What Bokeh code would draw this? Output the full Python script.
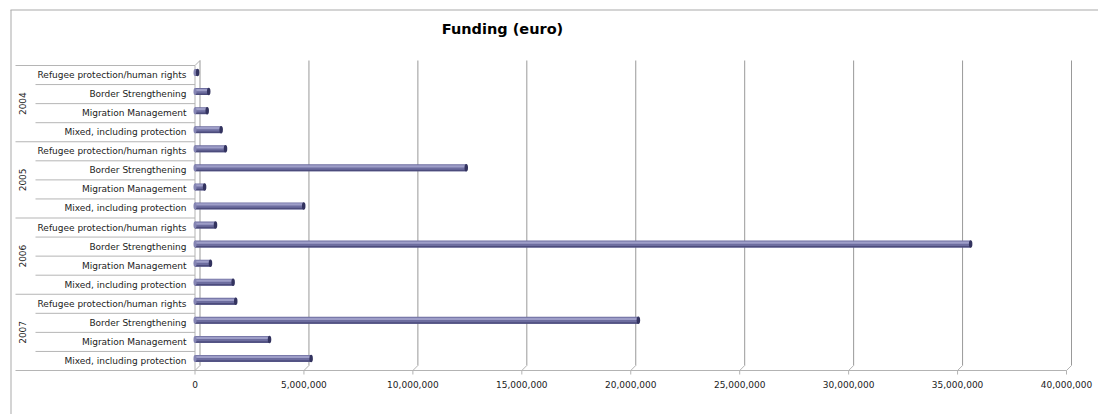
import math
from bokeh.plotting import figure
from bokeh.models import ColumnDataSource
from bokeh.core.properties import value
from bokeh.embed import file_html
from bokeh.resources import INLINE

# ---------------- data ----------------
years = ["2004", "2005", "2006", "2007"]
types = ["Refugee protection/human rights", "Border Strengthening",
         "Migration Management", "Mixed, including protection"]
funding_2004 = [120000, 630000, 560000, 1200000]
funding_2005 = [1400000, 12450000, 440000, 4990000]
funding_2006 = [940000, 35600000, 710000, 1750000]
funding_2007 = [1870000, 20350000, 3420000, 5330000]
x_ticks = [0, 5000000, 10000000, 15000000, 20000000, 25000000, 30000000, 35000000, 40000000]
title_text = "Funding (euro)"

# ---------------- layout ----------------
W, H = 1098, 414
PAGE = 0
X0, X40 = 194.5, 1066.0          # image px of 0 and 40M (front plane)
Y_BOT, Y_TOP = 370.0, 65.0       # image px of floor and top of rows
n_rows = len(years) * len(types)
row_px = (Y_BOT - Y_TOP) / n_rows
dpx = x_ticks[-1] / (X40 - X0)   # data per px (x)

x_start = -(X0 - PAGE) * dpx
x_end = x_start + W * dpx
y_end = (Y_BOT - PAGE) / row_px
y_start = y_end - H / row_px

def px2x(px):
    return (px - X0) * dpx

def px2y(py):
    return (Y_BOT - py) / row_px

DX = 5 * dpx        # 3D depth offsets
DY = 5 / row_px

p = figure(width=W, height=H, x_range=(x_start, x_end), y_range=(y_start, y_end),
           output_backend="svg", toolbar_location=None, min_border=0)
p.axis.visible = False
p.grid.visible = False
p.outline_line_color = None
p.background_fill_color = "white"
p.border_fill_color = "white"

FONT = value("DejaVu Sans")

# rows (top to bottom)
all_vals = [funding_2004, funding_2005, funding_2006, funding_2007]
labels, vals, yc = [], [], []
for gi, yr in enumerate(years):
    for ti, t in enumerate(types):
        i = gi * len(types) + ti
        labels.append(t)
        vals.append(all_vals[gi][ti])
        yc.append(n_rows - i - 0.5)

# ---------------- outer border (top & left) ----------------
bc = "#a9a9a9"
p.segment(x0=[px2x(10), px2x(10.5)], y0=[px2y(9.5), px2y(9.5)],
          x1=[x_end, px2x(10.5)], y1=[px2y(9.5), y_start],
          line_color=bc, line_width=1)

# ---------------- category separators ----------------
sep_y_major = [k * len(types) for k in range(len(years) + 1)]
sep_y_minor = [k for k in range(n_rows + 1) if k % len(types) != 0]
p.segment(x0=[px2x(15)] * len(sep_y_major), y0=sep_y_major,
          x1=[0] * len(sep_y_major), y1=sep_y_major, line_color="#b5b5b5", line_width=1)
p.segment(x0=[px2x(35)] * len(sep_y_minor), y0=sep_y_minor,
          x1=[0] * len(sep_y_minor), y1=sep_y_minor, line_color="#b5b5b5", line_width=1)

# ---------------- 3D walls / grid ----------------
gc = "#999999"
fc = "#b3b3b3"
# front vertical axis line and top diagonal
p.segment(x0=[0, 0], y0=[0, n_rows], x1=[0, DX], y1=[n_rows, n_rows + DY],
          line_color=fc, line_width=1)
# back gridlines
p.segment(x0=[t + DX for t in x_ticks], y0=[DY] * len(x_ticks),
          x1=[t + DX for t in x_ticks], y1=[n_rows + DY] * len(x_ticks),
          line_color=gc, line_width=1)
# floor diagonals
p.segment(x0=x_ticks, y0=[0] * len(x_ticks),
          x1=[t + DX for t in x_ticks], y1=[DY] * len(x_ticks),
          line_color=fc, line_width=1)
# floor line
p.segment(x0=[0], y0=[0], x1=[x_ticks[-1]], y1=[0], line_color=fc, line_width=1)
# tick marks
p.segment(x0=x_ticks, y0=[0] * len(x_ticks), x1=x_ticks, y1=[-4 / row_px] * len(x_ticks),
          line_color=fc, line_width=1)
# tick labels
p.text(x=x_ticks, y=[-13.5 / row_px] * len(x_ticks), text=[f"{t:,}" for t in x_ticks],
       text_font=FONT, text_font_size="9px", text_color="#222222",
       text_align="center", text_baseline="middle")

# ---------------- bars (cylinder look) ----------------
bar_h = 7 / row_px
shift = 2.5 / row_px
yb = [y + shift for y in yc]
src = ColumnDataSource(dict(y=yb, v=vals,
                            yhi=[y + 1.5 / row_px for y in yb],
                            ylo=[y - 2.6 / row_px for y in yb]))
p.hbar(y="y", left=0, right="v", height=bar_h, source=src,
       fill_color="#6d6d9f", line_color=None)
p.hbar(y="yhi", left=0, right="v", height=2.2 / row_px, source=src,
       fill_color="#9e9ec8", line_color=None)
p.hbar(y="ylo", left=0, right="v", height=1.6 / row_px, source=src,
       fill_color="#4c4c7c", line_color=None)
p.ellipse(x=0, y="y", width=3, height=7, width_units="screen", height_units="screen",
          source=src, fill_color="#8585b3", line_color=None)
p.ellipse(x="v", y="y", width=3.5, height=7.5, width_units="screen", height_units="screen",
          source=src, fill_color="#33335f", line_color=None)

# ---------------- category labels ----------------
p.text(x=[px2x(186)] * n_rows, y=yc, text=labels, text_font=FONT, text_font_size="9px",
       text_color="#222222", text_align="right", text_baseline="middle")
year_y = [n_rows - (g + 0.5) * len(types) for g in range(len(years))]
p.text(x=[px2x(21.5)] * len(years), y=year_y, text=years, angle=math.pi / 2,
       text_font=FONT, text_font_size="9px", text_color="#222222",
       text_align="center", text_baseline="middle")

# ---------------- title ----------------
p.text(x=[px2x(502)], y=[px2y(28)], text=[title_text], text_font=FONT,
       text_font_size="14.5px", text_font_style="bold", text_color="#000000",
       text_align="center", text_baseline="middle")

open("out.html", "w").write(file_html(p, INLINE))
